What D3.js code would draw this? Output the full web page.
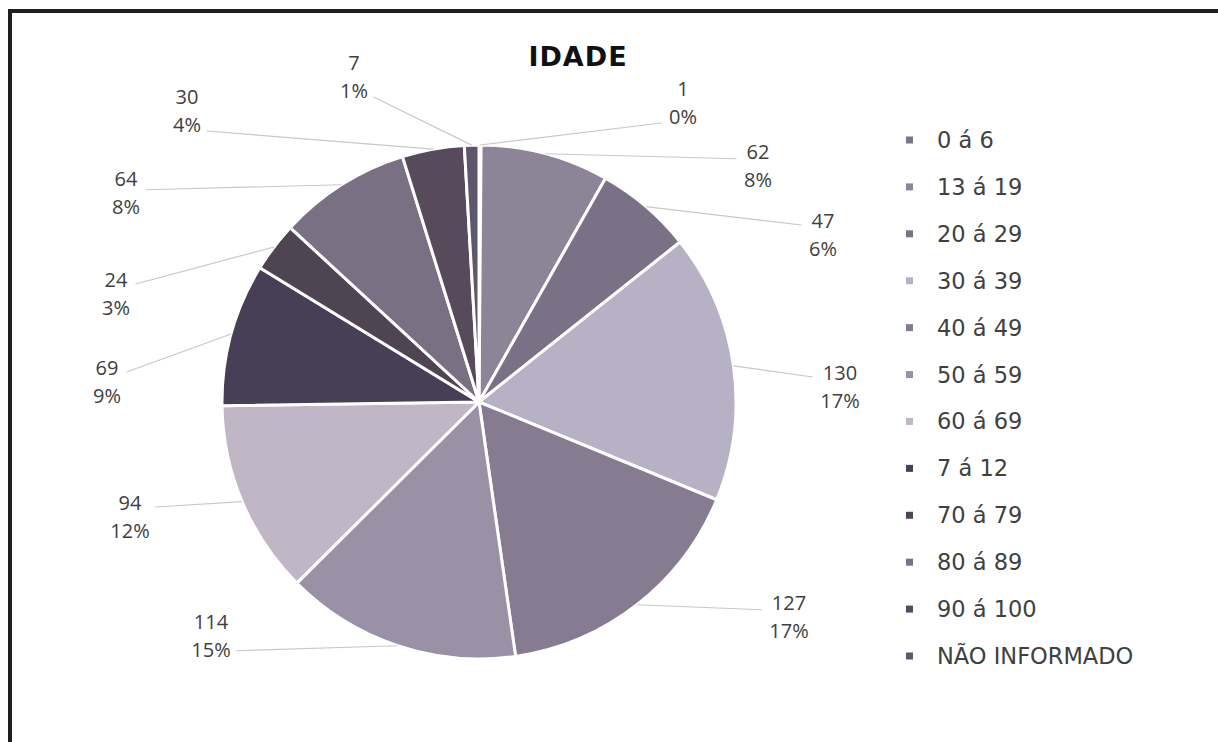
<!DOCTYPE html>
<html>
<head>
<meta charset="utf-8">
<script src="https://cdn.jsdelivr.net/npm/d3@7"></script>
<style>
  html, body { margin: 0; padding: 0; background: #fff; }
  svg { display: block; }
</style>
</head>
<body>
<svg id="chart" width="1218" height="742"></svg>
<script>
// Age groups and how many people fall in each
const categories = ["0 á 6", "13 á 19", "20 á 29", "30 á 39", "40 á 49", "50 á 59",
                    "60 á 69", "7 á 12", "70 á 79", "80 á 89", "90 á 100", "NÃO INFORMADO"];
const counts = [1, 62, 47, 130, 127, 114, 94, 69, 24, 64, 30, 7];
const sliceColors = ["#7d7585", "#8c8497", "#7b7186", "#b7b1c6", "#867b90", "#9a91a6",
                     "#c1b6c6", "#463f55", "#4f4452", "#7a7083", "#574b5b", "#5e566a"];

// Where each two-line data label sits (block centre)
const labelAt = [[683, 103], [758, 166], [823, 235], [840, 387], [789, 617], [211, 636],
                 [130, 517], [107, 382], [116, 294], [126, 193], [187, 111], [354, 77]];

const W = 1218, H = 742;
const cx = 479, cy = 402, R = 257;

const svg = d3.select("#chart");

// Outer frame (only left and top edges fall inside the view)
svg.append("rect")
  .attr("x", 10).attr("y", 11)
  .attr("width", W + 40).attr("height", H + 40)
  .attr("fill", "#fff")
  .attr("stroke", "#1e1e1e")
  .attr("stroke-width", 4);

// Title
svg.append("text")
  .attr("x", 578).attr("y", 66)
  .attr("text-anchor", "middle")
  .attr("font-family", "'DejaVu Sans', Verdana, sans-serif")
  .attr("font-weight", "bold")
  .attr("font-size", 27)
  .attr("letter-spacing", 1)
  .attr("fill", "#111")
  .text("IDADE");

const total = d3.sum(counts);
const color = d3.scaleOrdinal().domain(categories).range(sliceColors);

const pie = d3.pie().sort(null).value(d => d.value);
const arcs = pie(categories.map((c, i) => ({ cat: c, value: counts[i], idx: i })));
const arc = d3.arc().innerRadius(0).outerRadius(R);

const g = svg.append("g").attr("transform", `translate(${cx},${cy})`);

g.selectAll("path.slice")
  .data(arcs)
  .join("path")
  .attr("class", "slice")
  .attr("d", arc)
  .attr("fill", d => color(d.data.cat))
  .attr("stroke", "#fff")
  .attr("stroke-width", 3)
  .attr("stroke-linejoin", "round");

// Leader lines and data labels
const lineH = 28;
const fontLbl = "'Open Sans', 'Noto Sans', sans-serif";
const lbl = svg.append("g");

arcs.forEach((d, i) => {
  const mid = (d.startAngle + d.endAngle) / 2;
  const px = cx + R * Math.sin(mid);
  const py = cy - R * Math.cos(mid);
  const [lx, ly] = labelAt[i];
  const valTxt = String(d.data.value);
  const pctTxt = Math.round(d.data.value / total * 100) + "%";
  const halfW = Math.max(valTxt.length, pctTxt.length) * 5.8;
  const rightSide = lx > cx;
  const ex = rightSide ? lx - halfW - 10 : lx + halfW + 8;
  const top = ly - lineH, bot = ly + lineH;
  const ey = Math.max(top + 18, Math.min(bot - 8, py + 5));

  lbl.append("line")
    .attr("x1", px).attr("y1", py)
    .attr("x2", ex).attr("y2", ey)
    .attr("stroke", "#c8c8c8")
    .attr("stroke-width", 1.2);

  const t = lbl.append("text")
    .attr("text-anchor", "middle")
    .attr("font-family", fontLbl)
    .attr("font-size", 20)
    .attr("fill", "#404040");
  t.append("tspan").attr("x", lx).attr("y", ly - lineH / 2 + 7).text(valTxt);
  t.append("tspan").attr("x", lx).attr("y", ly + lineH / 2 + 7).text(pctTxt);
});

// Legend
const legendY = d3.scalePoint().domain(categories).range([140, 656]);
const leg = svg.append("g");
categories.forEach(c => {
  const y = legendY(c);
  leg.append("rect")
    .attr("x", 906).attr("y", y - 3.5)
    .attr("width", 7).attr("height", 7)
    .attr("fill", color(c));
  leg.append("text")
    .attr("x", 937).attr("y", y + 8)
    .attr("font-family", "'DejaVu Sans', Verdana, sans-serif")
    .attr("font-size", 22.5)
    .attr("fill", "#404040")
    .text(c);
});
</script>
</body>
</html>
